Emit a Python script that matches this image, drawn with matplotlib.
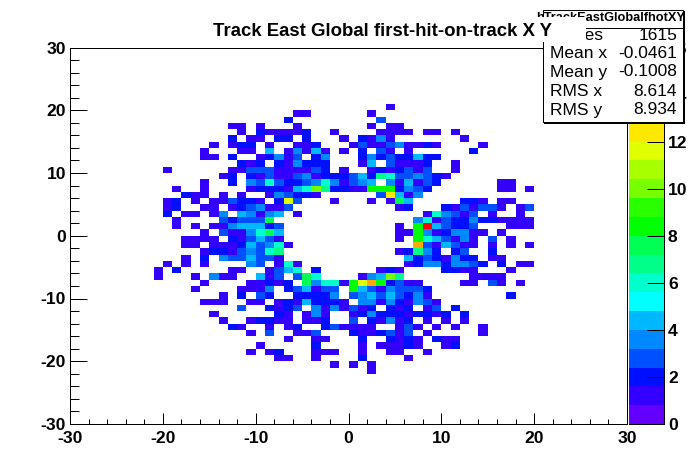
import numpy as np
import matplotlib
matplotlib.use('Agg')
import matplotlib.pyplot as plt
from matplotlib.colors import ListedColormap, BoundaryNorm
from matplotlib.patches import Rectangle
from matplotlib.lines import Line2D

plt.rcParams['font.family'] = ['Liberation Sans', 'DejaVu Sans']
plt.rcParams['axes.unicode_minus'] = False

W, H = 696, 472

title = 'Track East Global first-hit-on-track X Y'
hist_name = 'hTrackEastGlobalfhotXY'
stat_names = ['Entries', 'Mean x', 'Mean y', 'RMS x', 'RMS y']
stat_values = ['1615', '-0.0461', '-0.1008', '8.614', '8.934']

x_ticks = [-30, -20, -10, 0, 10, 20, 30]
y_ticks = [-30, -20, -10, 0, 10, 20, 30]
z_ticks = [0, 2, 4, 6, 8, 10, 12, 14, 16]

z_edges = np.linspace(0, 16, 21)
palette = ['#6400ff', '#3300ff', '#0010ff', '#0050ff', '#0088ff',
           '#00b8ff', '#00ffff', '#00ffcc', '#00ff88', '#00ff55',
           '#00ff00', '#2aff00', '#77ff00', '#a8ff00', '#e0ff00',
           '#ffe800', '#ffcc00', '#ffaa00', '#ff5500', '#ff0000']

# colour band of each filled bin:
# (row from the top, first column from the left, bands in base 36)
hits = [
    (9, 34, '1'),
    (10, 24, '11'), (10, 32, '1'),
    (11, 23, '2'), (11, 33, '3'),
    (12, 17, '11'), (12, 20, '1'), (12, 24, '1'), (12, 32, '1'), (12, 34, '11'),
    (13, 18, '1'), (13, 20, '211112'), (13, 26, ''), (13, 28, '1'),
    (13, 33, '1111'), (13, 38, '11'), (13, 41, '1'),
    (14, 17, '2'), (14, 19, '11'), (14, 22, '22'), (14, 25, '2'),
    (14, 29, '1'), (14, 31, '2141'), (14, 42, '1'),
    (15, 15, '1'), (15, 17, '122'), (15, 21, '1'), (15, 24, '112'),
    (15, 30, '1311341121'), (15, 44, '1'),
    (16, 14, '1'), (16, 18, '11'), (16, 21, '5'), (16, 23, '14151'),
    (16, 29, '1'), (16, 31, '2'), (16, 33, '31'), (16, 36, '1'), (16, 43, '2'),
    (17, 14, '11'), (17, 17, '2'), (17, 20, '12414'.replace('4', '4', 1)), (17, 24, '3'),
    (17, 26, '24'), (17, 31, '242322'), (17, 37, '522'),
    (18, 18, '212'), (18, 22, '214222'), (18, 31, '15'), (18, 34, '31112'),
    (18, 41, '1'),
    (19, 10, '1'), (19, 17, '11333'), (19, 22, '1111'), (19, 26, '32'),
    (19, 29, '1'), (19, 32, '1212313'), (19, 41, '1'),
    (20, 16, '12'), (20, 19, '213'), (20, 22, '11341222'), (20, 30, '3528'),
    (20, 34, '73343'), (20, 39, '21'),
    (21, 14, '1'), (21, 17, '2'), (21, 19, '43732234741'), (21, 30, '345'),
    (21, 34, '415132'), (21, 46, '11'),
    (22, 11, '1'), (22, 14, '1'), (22, 19, '1222157c8221'), (22, 31, '1aaa2432'),
    (22, 46, '11'), (22, 49, '1'),
    (23, 12, '211'), (23, 16, '1'), (23, 18, '1'), (23, 21, '143221'),
    (23, 33, '3f514'),
    (24, 10, '12'), (24, 13, '1'), (24, 15, '11322'), (24, 20, '1'),
    (24, 22, '2e3'), (24, 28, '1'), (24, 32, '1'), (24, 34, '195'),
    (24, 42, '221'), (24, 46, '11'),
    (25, 10, '12'), (25, 14, '11'), (25, 17, '123411'), (25, 23, '3'),
    (25, 35, '12'), (25, 40, '213133'), (25, 46, '1'), (25, 48, '13'),
    (26, 10, '2'), (26, 12, '11'), (26, 15, '14'), (26, 18, '54145'),
    (26, 24, '1'), (26, 38, '17431'), (26, 43, '3'), (26, 45, '1'), (26, 48, '1'),
    (27, 11, '1'), (27, 16, '323339'), (27, 37, '47132'), (27, 42, '2422'),
    (27, 46, '1111'),
    (28, 11, '1'), (28, 13, '1'), (28, 15, '11455523'), (28, 35, '1'),
    (28, 37, 'aj5322'), (28, 43, '3'), (28, 47, '111'),
    (29, 14, '1'), (29, 16, '3114795'), (29, 35, '11a41244'), (29, 43, '11'),
    (29, 46, '1'),
    (30, 12, '1111'), (30, 17, '213531'), (30, 35, '1'), (30, 37, 'a7531'),
    (30, 42, '41'), (30, 45, '3'), (30, 47, '1'),
    (31, 12, '11'), (31, 15, '1112534'), (31, 22, '71'), (31, 37, 'h31531'),
    (31, 43, '1'), (31, 45, '1'), (31, 47, '1'), (31, 49, '1'),
    (32, 14, '12213437'), (32, 22, '8'), (32, 35, '1284'), (32, 39, '2'),
    (32, 41, '23'), (32, 45, '2'),
    (33, 12, '1'), (33, 14, '2'), (33, 16, '4335'), (33, 20, '331'),
    (33, 36, '52321422'), (33, 45, '11'),
    (34, 10, '1'), (34, 12, '1'), (34, 14, '1'), (34, 19, '43'), (34, 22, '171'),
    (34, 36, '12442443'), (34, 44, '2'), (34, 46, '2'), (34, 48, '11'),
    (35, 9, '1'), (35, 11, '2'), (35, 17, '11'), (35, 21, '1357'), (35, 26, '2'),
    (35, 33, '121'), (35, 40, '2211'), (35, 47, '1'),
    (36, 9, '1'), (36, 13, '1'), (36, 15, '411'), (36, 20, '513'), (36, 24, '397'),
    (36, 31, '145c8'), (36, 43, '1111'),
    (37, 14, '1'), (37, 19, '1121'), (37, 23, '2'), (37, 25, '94771'),
    (37, 30, 'aeha2311'), (37, 42, '11'), (37, 45, '31'), (37, 48, '1'),
    (38, 13, '1'), (38, 18, '1114'), (38, 23, '23513 3'.replace(' ', '')), (38, 30, 'a5314'),
    (38, 35, '3332'),
    (39, 16, '1'), (39, 18, '2'), (39, 20, '32'), (39, 24, '22224'),
    (39, 30, '3453532'), (39, 37, '41'), (39, 47, '2'),
    (40, 14, '111'), (40, 19, '11'), (40, 22, '121522'), (40, 28, '21'),
    (40, 31, '44142'), (40, 36, '1431'),
    (41, 18, '3'), (41, 21, '2123'), (41, 26, '4141'), (41, 30, '312'),
    (41, 34, '212'), (41, 38, '13'), (41, 41, '2'),
    (42, 15, '1'), (42, 22, '21'), (42, 25, '141'), (42, 30, '12422212212'),
    (42, 42, '2'),
    (43, 16, '1'), (43, 19, '12211'), (43, 25, '112'), (43, 30, '3'),
    (43, 32, '21412'), (43, 38, '1'), (43, 40, '1'), (43, 42, '1'),
    (44, 17, '21'), (44, 21, '1'), (44, 23, '12'), (44, 27, '231'), (44, 30, '111'),
    (44, 35, '131'), (44, 39, '1'), (44, 41, '1'), (44, 44, '1'),
    (45, 19, '1'), (45, 21, '3'), (45, 24, '113'), (45, 30, '21123'), (45, 35, '13'),
    (45, 38, '1'), (45, 44, '1'),
    (46, 23, '1'), (46, 26, '11'), (46, 31, '2'), (46, 34, '2121'), (46, 39, '211'),
    (47, 20, '1'), (47, 26, '2'), (47, 31, '1'), (47, 33, '11121'), (47, 40, '12'),
    (48, 19, '1'), (48, 21, '12'), (48, 26, '111'), (48, 31, '1'), (48, 34, '11'),
    (48, 38, '1'),
    (49, 22, '11'), (49, 26, '1'), (49, 31, '2'), (49, 36, '1'),
    (50, 28, '1'), (50, 30, '1'), (50, 32, '1'),
    (51, 32, '1'),
]


def fx(px):
    return px / W


def fy(py):
    return 1 - py / H


def pt(px):
    return px * 72 / 100


counts = np.full((60, 60), np.nan)
for row, col, bands in hits:
    for k, c in enumerate(bands):
        counts[59 - row, col + k] = z_edges[int(c, 36)] + 0.4

fig = plt.figure(figsize=(W / 100, H / 100), dpi=100, facecolor='white')
ax = fig.add_axes([fx(70), fy(424), (627 - 70) / W, (424 - 47.5) / H])

cmap = ListedColormap(palette)
norm = BoundaryNorm(z_edges, cmap.N)
edges = np.arange(-30, 31)
mesh = ax.pcolormesh(edges, edges, counts, cmap=cmap, norm=norm, antialiased=False)

ax.set_xlim(-30, 30)
ax.set_ylim(-30, 30)
ax.set_xticks(x_ticks)
ax.set_yticks(y_ticks)
ax.set_xticks(np.arange(-30, 31, 2), minor=True)
ax.set_yticks(np.arange(-30, 31, 2), minor=True)
ax.tick_params(axis='x', which='major', direction='in', length=pt(11), width=pt(1), pad=pt(7))
ax.tick_params(axis='x', which='minor', direction='in', length=pt(5.5), width=pt(1))
ax.tick_params(axis='y', which='major', direction='in', length=pt(17), width=pt(1), pad=pt(4))
ax.tick_params(axis='y', which='minor', direction='in', length=pt(8.5), width=pt(1))
for lab in ax.get_xticklabels() + ax.get_yticklabels():
    lab.set_fontsize(12.6)
    lab.set_fontweight('bold')
for sp in ax.spines.values():
    sp.set_linewidth(pt(1))

cax = fig.add_axes([fx(629), fy(424), (664 - 629) / W, (424 - 47.5) / H])
cb = fig.colorbar(mesh, cax=cax, ticks=z_ticks, spacing='proportional')
cb.outline.set_visible(False)
cb.minorticks_off()
cax.tick_params(axis='y', direction='in', length=pt(17), width=pt(1), pad=pt(4))
cax.set_yticklabels([str(z) for z in z_ticks], fontsize=12.6, fontweight='bold')
cax.spines['right'].set_visible(True)
cax.spines['bottom'].set_visible(True)
cax.spines['right'].set_linewidth(pt(1))
cax.spines['bottom'].set_linewidth(pt(1))

# stats box sits over the colour bar, the white title box over the stats box
fig.add_artist(Rectangle((fx(544), fy(124)), (685 - 544) / W, (124 - 11) / H,
                         transform=fig.transFigure, fc='black', ec='none', zorder=10))
fig.add_artist(Rectangle((fx(542.5), fy(122)), (683 - 542.5) / W, (122 - 10) / H,
                         transform=fig.transFigure, fc='white', ec='black',
                         lw=pt(1), zorder=11))
fig.text(fx(611), fy(18), hist_name, ha='center', va='center', fontsize=9.2,
         fontweight='bold', zorder=12)
fig.add_artist(Line2D([fx(543), fx(683)], [fy(27.5), fy(27.5)], color='black',
                      lw=pt(1), zorder=12))
stat_y = [35, 54, 72, 91, 110]
for name, value, py in zip(stat_names, stat_values, stat_y):
    fig.text(fx(550), fy(py), name, ha='left', va='center', fontsize=12.5, zorder=12)
    fig.text(fx(677), fy(py), value, ha='right', va='center', fontsize=12.5, zorder=12)

fig.add_artist(Rectangle((fx(178), fy(42)), (586 - 178) / W, (42 - 17.5) / H,
                         transform=fig.transFigure, fc='white', ec='none', zorder=13))
fig.text(fx(382.5), fy(31), title, ha='center', va='center', fontsize=13.4,
         fontweight='bold', zorder=14)

fig.savefig('out.png', dpi=100)
